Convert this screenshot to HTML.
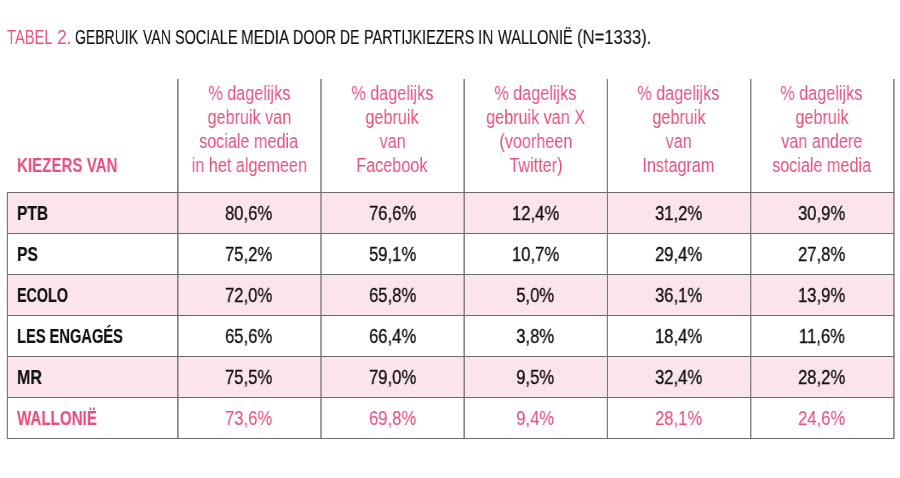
<!DOCTYPE html>
<html><head><meta charset="utf-8">
<style>
html,body{margin:0;padding:0;background:#fff;}
body{width:900px;height:478px;overflow:hidden;position:relative;font-family:"Liberation Sans",sans-serif;}
.hl{position:absolute;left:7px;width:887px;height:1px;background:#6c6c6c}
.vl{position:absolute;width:2px}
.bg{position:absolute;background:#fbe4ea;left:8px;width:886px;height:40px}
.ttl{position:absolute;will-change:transform;left:7px;top:26.6px;font-size:20.3px;line-height:1;white-space:nowrap;transform-origin:0 0;transform:scaleX(0.73)}
.p{color:#e8517f;-webkit-text-stroke:0}
.k{color:#111;-webkit-text-stroke:0.15px #111}
.hd{position:absolute;top:80.9px;font-size:19.5px;line-height:24px;color:#e8517f;text-align:center;white-space:nowrap}
.hd span{display:inline-block;will-change:transform;transform:scaleX(0.83)}
.kv{position:absolute;-webkit-text-stroke:0.1px currentColor;will-change:transform;left:16.8px;top:152.94px;font-size:19.5px;line-height:24px;font-weight:bold;color:#e8517f;white-space:nowrap;transform-origin:0 0;transform:scaleX(0.775)}
.lab{position:absolute;-webkit-text-stroke:0.2px currentColor;will-change:transform;left:16.8px;line-height:41px;font-size:19.5px;font-weight:bold;color:#111;white-space:nowrap;transform-origin:0 0;transform:scaleX(0.755)}
.v{position:absolute;-webkit-text-stroke:0.3px currentColor;line-height:41px;font-size:19.5px;color:#111;text-align:center;white-space:nowrap}
.v span{display:inline-block;will-change:transform;transform:scaleX(0.855)}
.w{color:#e8517f}
.v.w{-webkit-text-stroke:0.1px currentColor}
</style></head><body>
<div class="ttl p" style="left:7.30px;transform:scaleX(0.7258)">TABEL</div><div class="ttl p" style="left:56.94px;transform:scaleX(0.8571)">2.</div><div class="ttl k" style="left:75.41px;transform:scaleX(0.6911)">GEBRUIK</div><div class="ttl k" style="left:142.50px;transform:scaleX(0.6974)">VAN</div><div class="ttl k" style="left:175.19px;transform:scaleX(0.7105)">SOCIALE</div><div class="ttl k" style="left:241.20px;transform:scaleX(0.7500)">MEDIA</div><div class="ttl k" style="left:292.99px;transform:scaleX(0.7052)">DOOR</div><div class="ttl k" style="left:340.03px;transform:scaleX(0.6846)">DE</div><div class="ttl k" style="left:363.88px;transform:scaleX(0.7125)">PARTIJKIEZERS</div><div class="ttl k" style="left:478.19px;transform:scaleX(0.7529)">IN</div><div class="ttl k" style="left:498.10px;transform:scaleX(0.7175)">WALLONIË</div><div class="ttl k" style="left:577.28px;transform:scaleX(0.8205)">(N=1333).</div>
<div class="bg" style="top:193px"></div>
<div class="bg" style="top:275px"></div>
<div class="bg" style="top:357px"></div>
<div class="hd" style="left:177.5px;width:143.0px"><span>% dagelijks</span><br><span>gebruik van</span><br><span>sociale media</span><br><span>in het algemeen</span></div>
<div class="hd" style="left:320.5px;width:143.5px"><span>% dagelijks</span><br><span>gebruik</span><br><span>van</span><br><span>Facebook</span></div>
<div class="hd" style="left:464px;width:143px"><span>% dagelijks</span><br><span>gebruik van X</span><br><span>(voorheen</span><br><span>Twitter)</span></div>
<div class="hd" style="left:607px;width:143px"><span>% dagelijks</span><br><span>gebruik</span><br><span>van</span><br><span>Instagram</span></div>
<div class="hd" style="left:750px;width:143.5px"><span>% dagelijks</span><br><span>gebruik</span><br><span>van andere</span><br><span>sociale media</span></div>
<div class="kv">KIEZERS VAN</div>
<div class="lab" style="top:192.8px;transform:scaleX(0.795)">PTB</div>
<div class="v" style="top:192.8px;left:177.5px;width:143.0px"><span>80,6%</span></div>
<div class="v" style="top:192.8px;left:320.5px;width:143.5px"><span>76,6%</span></div>
<div class="v" style="top:192.8px;left:464px;width:143px"><span>12,4%</span></div>
<div class="v" style="top:192.8px;left:607px;width:143px"><span>31,2%</span></div>
<div class="v" style="top:192.8px;left:750px;width:143.5px"><span>30,9%</span></div>
<div class="lab" style="top:233.8px;transform:scaleX(0.804)">PS</div>
<div class="v" style="top:233.8px;left:177.5px;width:143.0px"><span>75,2%</span></div>
<div class="v" style="top:233.8px;left:320.5px;width:143.5px"><span>59,1%</span></div>
<div class="v" style="top:233.8px;left:464px;width:143px"><span>10,7%</span></div>
<div class="v" style="top:233.8px;left:607px;width:143px"><span>29,4%</span></div>
<div class="v" style="top:233.8px;left:750px;width:143.5px"><span>27,8%</span></div>
<div class="lab" style="top:274.8px;transform:scaleX(0.734)">ECOLO</div>
<div class="v" style="top:274.8px;left:177.5px;width:143.0px"><span>72,0%</span></div>
<div class="v" style="top:274.8px;left:320.5px;width:143.5px"><span>65,8%</span></div>
<div class="v" style="top:274.8px;left:464px;width:143px"><span>5,0%</span></div>
<div class="v" style="top:274.8px;left:607px;width:143px"><span>36,1%</span></div>
<div class="v" style="top:274.8px;left:750px;width:143.5px"><span>13,9%</span></div>
<div class="lab" style="top:315.8px;transform:scaleX(0.752)">LES ENGAGÉS</div>
<div class="v" style="top:315.8px;left:177.5px;width:143.0px"><span>65,6%</span></div>
<div class="v" style="top:315.8px;left:320.5px;width:143.5px"><span>66,4%</span></div>
<div class="v" style="top:315.8px;left:464px;width:143px"><span>3,8%</span></div>
<div class="v" style="top:315.8px;left:607px;width:143px"><span>18,4%</span></div>
<div class="v" style="top:315.8px;left:750px;width:143.5px"><span>11,6%</span></div>
<div class="lab" style="top:356.8px;transform:scaleX(0.821)">MR</div>
<div class="v" style="top:356.8px;left:177.5px;width:143.0px"><span>75,5%</span></div>
<div class="v" style="top:356.8px;left:320.5px;width:143.5px"><span>79,0%</span></div>
<div class="v" style="top:356.8px;left:464px;width:143px"><span>9,5%</span></div>
<div class="v" style="top:356.8px;left:607px;width:143px"><span>32,4%</span></div>
<div class="v" style="top:356.8px;left:750px;width:143.5px"><span>28,2%</span></div>
<div class="lab w" style="top:397.8px;transform:scaleX(0.776)">WALLONIË</div>
<div class="v w" style="top:397.8px;left:177.5px;width:143.0px"><span>73,6%</span></div>
<div class="v w" style="top:397.8px;left:320.5px;width:143.5px"><span>69,8%</span></div>
<div class="v w" style="top:397.8px;left:464px;width:143px"><span>9,4%</span></div>
<div class="v w" style="top:397.8px;left:607px;width:143px"><span>28,1%</span></div>
<div class="v w" style="top:397.8px;left:750px;width:143.5px"><span>24,6%</span></div>
<div class="vl" style="left:6px;top:192px;height:247px;background:linear-gradient(to right,#e6e6e6 50%,#7c7c7c 50%)"></div>
<div class="vl" style="left:177px;top:79px;height:360px;background:linear-gradient(to right,#858585 50%,#ababab 50%)"></div>
<div class="vl" style="left:320px;top:79px;height:360px;background:linear-gradient(to right,#9e9e9e 50%,#a2a2a2 50%)"></div>
<div class="vl" style="left:463px;top:79px;height:360px;background:linear-gradient(to right,#b5b5b5 50%,#858585 50%)"></div>
<div class="vl" style="left:606px;top:79px;height:360px;background:linear-gradient(to right,#e6e6e6 50%,#7c7c7c 50%)"></div>
<div class="vl" style="left:750px;top:79px;height:360px;background:linear-gradient(to right,#858585 50%,#c8c8c8 50%)"></div>
<div class="vl" style="left:893px;top:79px;height:360px;background:linear-gradient(to right,#8e8e8e 50%,#ababab 50%)"></div>
<div class="hl" style="top:192px"></div>
<div class="hl" style="top:233px"></div>
<div class="hl" style="top:274px"></div>
<div class="hl" style="top:315px"></div>
<div class="hl" style="top:356px"></div>
<div class="hl" style="top:397px"></div>
<div class="hl" style="top:438px"></div>
</body></html>
